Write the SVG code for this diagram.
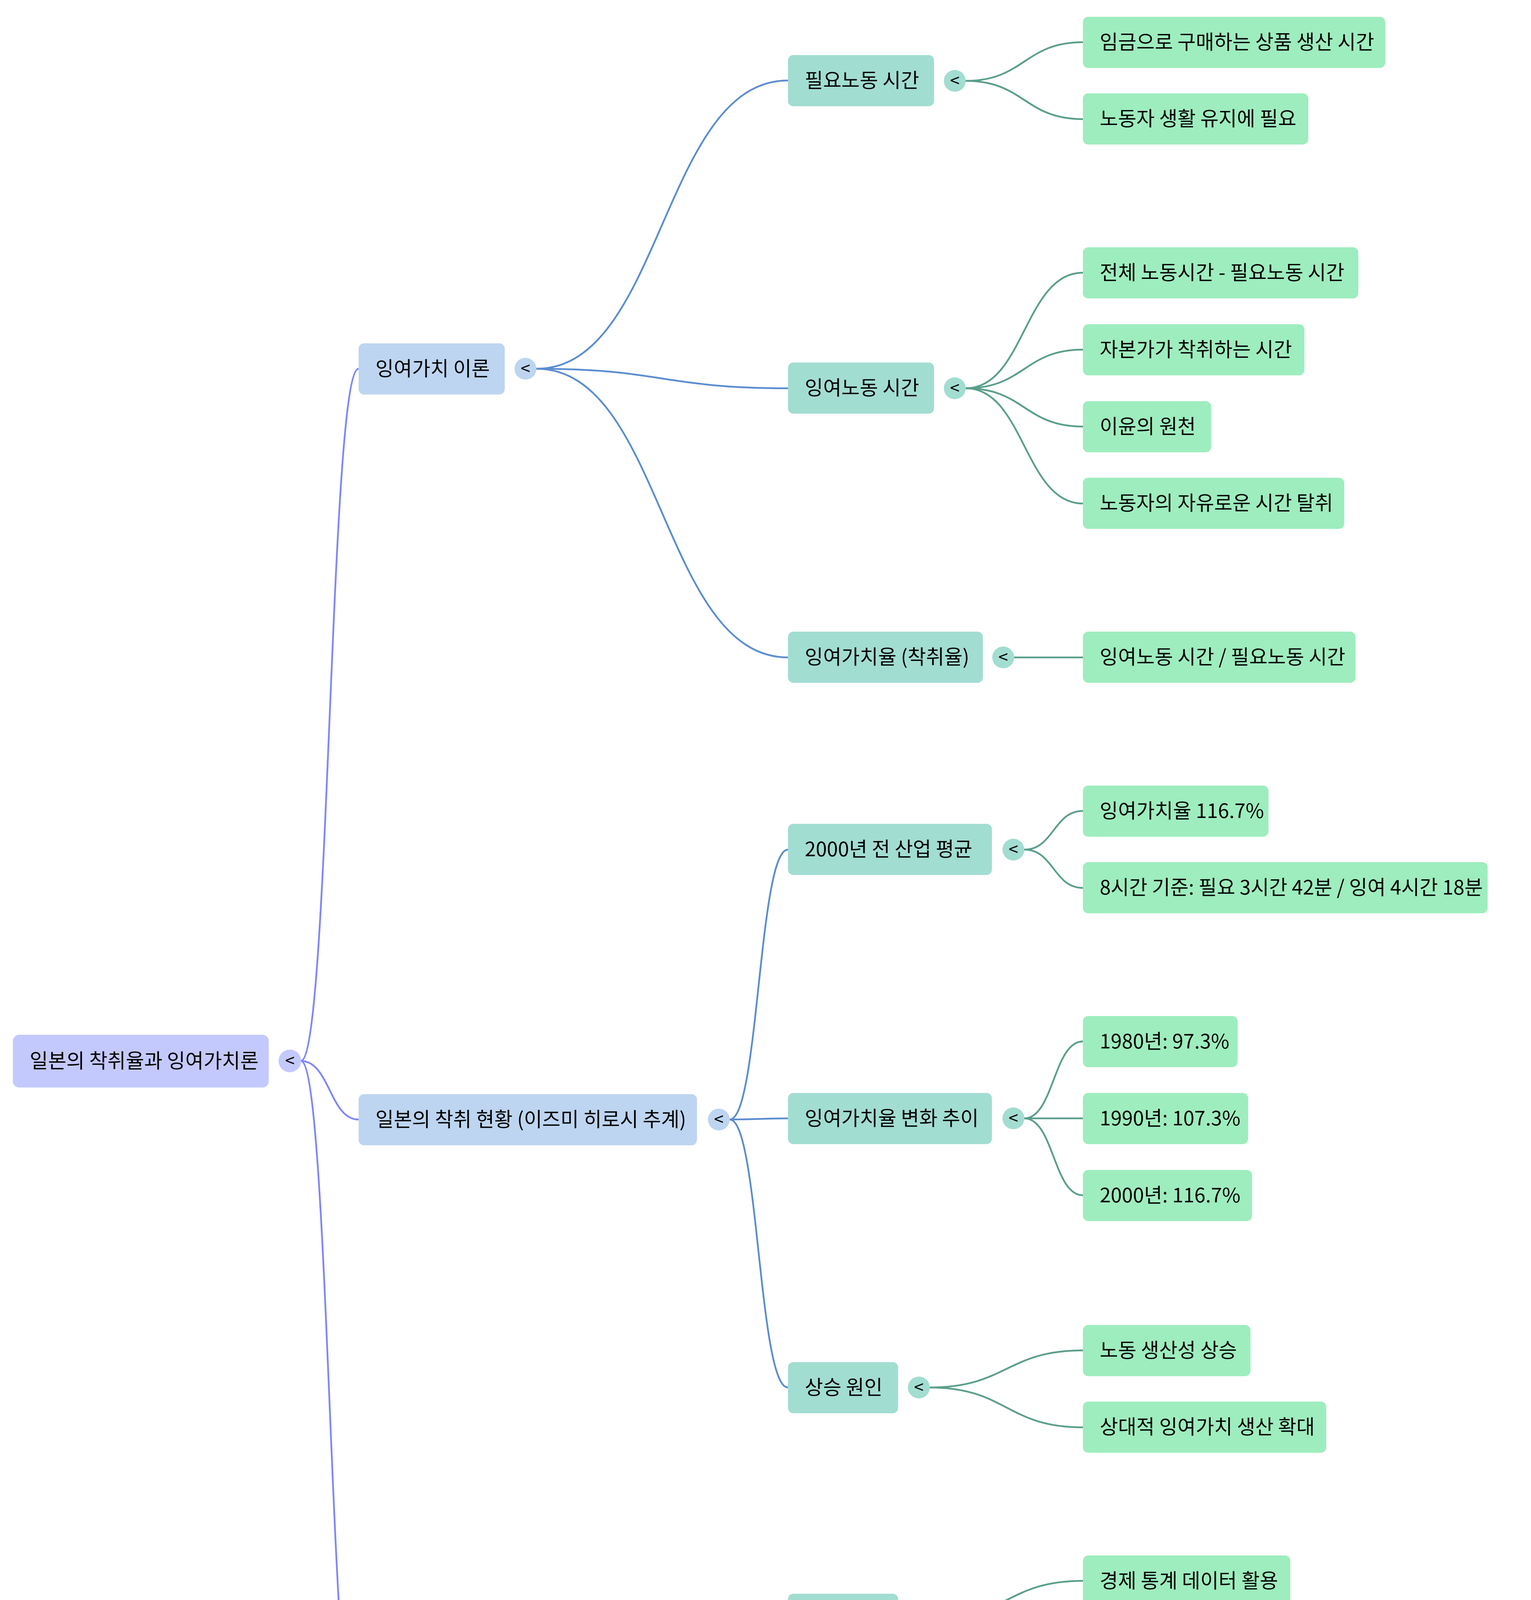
<svg xmlns="http://www.w3.org/2000/svg" width="3919" height="5136" viewBox="0 0 3919 5136">
<style>
text{font-family:"Noto Sans CJK KR","Noto Sans",sans-serif;font-size:51px;fill:#000}
.r{fill:#c4c9fd}.a{fill:#bdd5f0}.b{fill:#a2ddd1}.c{fill:#9eedbe}
.e0{fill:none;stroke:#7f86f8;stroke-width:4.5}
.e1{fill:none;stroke:#5b8dd0;stroke-width:4.5}
.e2{fill:none;stroke:#5a9e8b;stroke-width:4.5}
.k{font-size:44px;text-anchor:middle}
</style>
<rect width="3919" height="5136" fill="#fff"/>
<g id="connectors">
<path class="e0" d="M770 2716 C844 2716 844 944 918 944"/>
<path class="e0" d="M770 2716 C844 2716 844 2866 918 2866"/>
<path class="e0" d="M770 2716 C844 2716 844 4490 918 4490"/>
<path class="e1" d="M1373 944 C1695 944 1695 206 2017 206"/>
<path class="e1" d="M1373 944 C1695 944 1695 994 2017 994"/>
<path class="e1" d="M1373 944 C1695 944 1695 1683 2017 1683"/>
<path class="e1" d="M1868 2866 C1942 2866 1942 2175 2017 2175"/>
<path class="e1" d="M1868 2866 C1942 2866 1942 2863 2017 2863"/>
<path class="e1" d="M1868 2866 C1942 2866 1942 3552 2017 3552"/>
<path class="e1" d="M1474 4490 C1745 4490 1745 4146 2017 4146"/>
<path class="e1" d="M1474 4490 C1745 4490 1745 4835 2017 4835"/>
<path class="e2" d="M2472 207 C2622 207 2622 108 2772 108"/>
<path class="e2" d="M2472 207 C2622 207 2622 305 2772 305"/>
<path class="e2" d="M2472 994 C2622 994 2622 698 2772 698"/>
<path class="e2" d="M2472 994 C2622 994 2622 895 2772 895"/>
<path class="e2" d="M2472 994 C2622 994 2622 1092 2772 1092"/>
<path class="e2" d="M2472 994 C2622 994 2622 1289 2772 1289"/>
<path class="e2" d="M2596 1683 L2772 1683"/>
<path class="e2" d="M2622 2175 C2697 2175 2697 2076 2772 2076"/>
<path class="e2" d="M2622 2175 C2697 2175 2697 2273 2772 2273"/>
<path class="e2" d="M2622 2863 C2697 2863 2697 2666 2772 2666"/>
<path class="e2" d="M2622 2863 L2772 2863"/>
<path class="e2" d="M2622 2863 C2697 2863 2697 3060 2772 3060"/>
<path class="e2" d="M2380 3552 C2576 3552 2576 3457 2772 3457"/>
<path class="e2" d="M2380 3552 C2576 3552 2576 3654 2772 3654"/>
<path class="e2" d="M2380 4146 C2576 4146 2576 4047 2772 4047"/>
<path class="e2" d="M2380 4146 C2576 4146 2576 4244 2772 4244"/>
<path class="e2" d="M2622 4835 C2697 4835 2697 4638 2772 4638"/>
<path class="e2" d="M2622 4835 L2772 4835"/>
<path class="e2" d="M2622 4835 C2697 4835 2697 5031 2772 5031"/>
</g>
<g id="root"><rect class="r" x="33" y="2649" width="655" height="135" rx="16"/><text x="76" y="2734">일본의 착취율과 잉여가치론</text><circle class="r" cx="742" cy="2716" r="29"/><text class="k" x="742" y="2731">&lt;</text></g>
<g id="n1"><rect class="a" x="918" y="879" width="374" height="131" rx="14"/><text x="961" y="962">잉여가치 이론</text><circle class="a" cx="1345" cy="944" r="28"/><text class="k" x="1345" y="959">&lt;</text></g>
<g id="n2"><rect class="a" x="918" y="2801" width="866" height="131" rx="14"/><text x="961" y="2884">일본의 착취 현황 (이즈미 히로시 추계)</text><circle class="a" cx="1840" cy="2866" r="28"/><text class="k" x="1840" y="2881">&lt;</text></g>
<g id="n3"><rect class="a" x="918" y="4425" width="476" height="131" rx="14"/><text x="961" y="4508">연구의 의의와 방법</text><circle class="a" cx="1446" cy="4490" r="28"/><text class="k" x="1446" y="4505">&lt;</text></g>
<g id="n11"><rect class="b" x="2017" y="141" width="374" height="131" rx="14"/><text x="2060" y="224">필요노동 시간</text><circle class="b" cx="2444" cy="207" r="28"/><text class="k" x="2444" y="222">&lt;</text></g>
<g id="n12"><rect class="b" x="2017" y="928" width="374" height="131" rx="14"/><text x="2060" y="1011">잉여노동 시간</text><circle class="b" cx="2444" cy="994" r="28"/><text class="k" x="2444" y="1009">&lt;</text></g>
<g id="n13"><rect class="b" x="2017" y="1617" width="499" height="131" rx="14"/><text x="2060" y="1700">잉여가치율 (착취율)</text><circle class="b" cx="2568" cy="1683" r="28"/><text class="k" x="2568" y="1698">&lt;</text></g>
<g id="n21"><rect class="b" x="2017" y="2109" width="522" height="131" rx="14"/><text x="2060" y="2192">2000년 전 산업 평균</text><circle class="b" cx="2594" cy="2175" r="28"/><text class="k" x="2594" y="2190">&lt;</text></g>
<g id="n22"><rect class="b" x="2017" y="2798" width="522" height="131" rx="14"/><text x="2060" y="2881">잉여가치율 변화 추이</text><circle class="b" cx="2594" cy="2863" r="28"/><text class="k" x="2594" y="2878">&lt;</text></g>
<g id="n23"><rect class="b" x="2017" y="3487" width="282" height="131" rx="14"/><text x="2060" y="3570">상승 원인</text><circle class="b" cx="2352" cy="3552" r="28"/><text class="k" x="2352" y="3567">&lt;</text></g>
<g id="n31"><rect class="b" x="2017" y="4080" width="282" height="131" rx="14"/><text x="2060" y="4163">분석 방법</text><circle class="b" cx="2352" cy="4146" r="28"/><text class="k" x="2352" y="4161">&lt;</text></g>
<g id="n32"><rect class="b" x="2017" y="4769" width="522" height="131" rx="14"/><text x="2060" y="4852">자본론의 현대적 가치</text><circle class="b" cx="2594" cy="4835" r="28"/><text class="k" x="2594" y="4850">&lt;</text></g>
<g id="l1"><rect class="c" x="2772" y="43" width="774" height="131" rx="14"/><text x="2815" y="126">임금으로 구매하는 상품 생산 시간</text></g>
<g id="l2"><rect class="c" x="2772" y="239" width="577" height="131" rx="14"/><text x="2815" y="322">노동자 생활 유지에 필요</text></g>
<g id="l3"><rect class="c" x="2772" y="633" width="705" height="131" rx="14"/><text x="2815" y="716">전체 노동시간 - 필요노동 시간</text></g>
<g id="l4"><rect class="c" x="2772" y="830" width="567" height="131" rx="14"/><text x="2815" y="913">자본가가 착취하는 시간</text></g>
<g id="l5"><rect class="c" x="2772" y="1027" width="328" height="131" rx="14"/><text x="2815" y="1110">이윤의 원천</text></g>
<g id="l6"><rect class="c" x="2772" y="1223" width="669" height="131" rx="14"/><text x="2815" y="1306">노동자의 자유로운 시간 탈취</text></g>
<g id="l7"><rect class="c" x="2772" y="1617" width="698" height="131" rx="14"/><text x="2815" y="1700">잉여노동 시간 / 필요노동 시간</text></g>
<g id="l8"><rect class="c" x="2772" y="2011" width="475" height="131" rx="14"/><text x="2815" y="2094">잉여가치율 116.7%</text></g>
<g id="l9"><rect class="c" x="2772" y="2207" width="1036" height="131" rx="14"/><text x="2815" y="2290">8시간 기준: 필요 3시간 42분 / 잉여 4시간 18분</text></g>
<g id="l10"><rect class="c" x="2772" y="2601" width="396" height="131" rx="14"/><text x="2815" y="2684">1980년: 97.3%</text></g>
<g id="l11"><rect class="c" x="2772" y="2798" width="423" height="131" rx="14"/><text x="2815" y="2881">1990년: 107.3%</text></g>
<g id="l12"><rect class="c" x="2772" y="2995" width="433" height="131" rx="14"/><text x="2815" y="3078">2000년: 116.7%</text></g>
<g id="l13"><rect class="c" x="2772" y="3392" width="429" height="131" rx="14"/><text x="2815" y="3475">노동 생산성 상승</text></g>
<g id="l14"><rect class="c" x="2772" y="3588" width="623" height="131" rx="14"/><text x="2815" y="3671">상대적 잉여가치 생산 확대</text></g>
<g id="l15"><rect class="c" x="2772" y="3982" width="531" height="131" rx="14"/><text x="2815" y="4065">경제 통계 데이터 활용</text></g>
<g id="l16"><rect class="c" x="2772" y="4179" width="475" height="131" rx="14"/><text x="2815" y="4262">노동시간 기반 추계</text></g>
<g id="l17"><rect class="c" x="2772" y="4572" width="577" height="131" rx="14"/><text x="2815" y="4655">착취 실태의 과학적 규명</text></g>
<g id="l18"><rect class="c" x="2772" y="4769" width="649" height="131" rx="14"/><text x="2815" y="4852">임금 인상 및 시간 단축 근거</text></g>
<g id="l19"><rect class="c" x="2772" y="4966" width="829" height="131" rx="14"/><text x="2815" y="5049">인간의 전면적 발달과 미래 사회 설계</text></g>
</svg>
